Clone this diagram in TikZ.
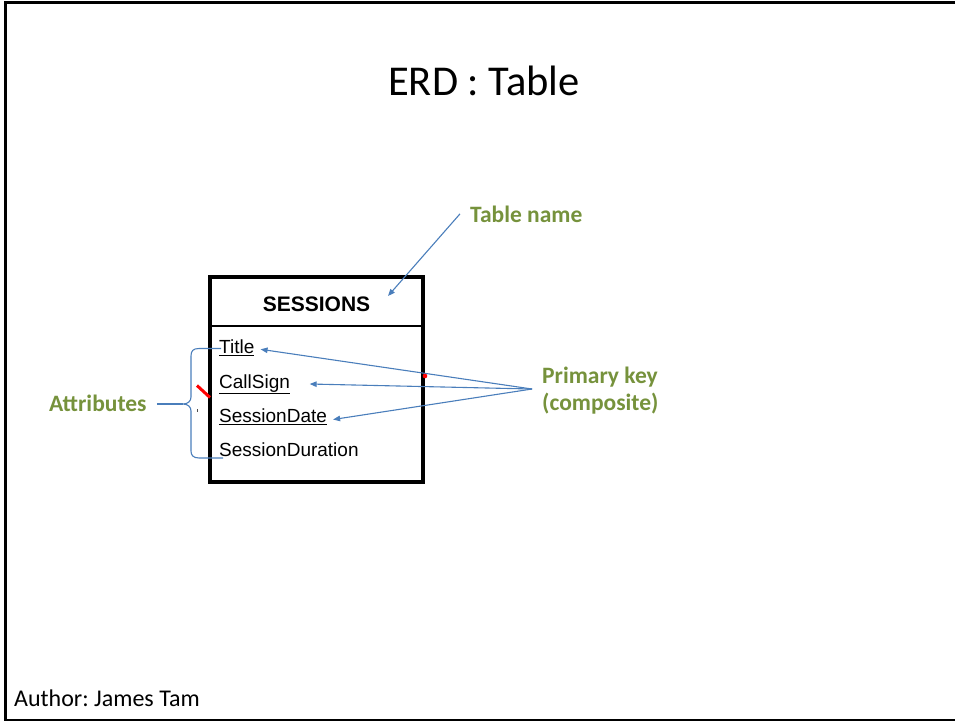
\documentclass[tikz,border=0pt]{standalone}
\usepackage{fontspec}
\setmainfont{Carlito}
\newfontfamily\arialfont{Liberation Sans}
\usetikzlibrary{arrows.meta}
\usetikzlibrary{positioning}
\frenchspacing
\definecolor{labelgreen}{RGB}{118,146,60}
\definecolor{pointerblue}{RGB}{74,126,187}
\tikzset{greenlabel/.style = {text=labelgreen, inner sep=0,
                              font=\fontsize{23.5}{28}\selectfont\bfseries}}
\tikzset{attrib/.style = {inner sep=0, anchor=base west,
                          font=\arialfont\fontsize{19}{22}\selectfont}}
\tikzset{pointer/.style = {draw=pointerblue, line width=1.1pt,
                           -{Triangle[length=7pt,width=5.5pt]}}}
\tikzset{bracket/.style = {draw=pointerblue, line width=1.1pt}}
\tikzset{tablebox/.style = {draw, line width=4pt}}

\begin{document}
\begin{tikzpicture}[x=1pt, y=-1pt]
    \useasboundingbox (0, 0) rectangle (955, 721);

    \draw [line width=3pt] (4, 2.5) -- (955, 2.5);
    \draw [line width=2.5pt] (5.5, 1) -- (5.5, 721);
    \draw [line width=1.2pt] (4, 720) -- (955, 720);

    \node [anchor=base, font=\fontsize{42.5}{50}\selectfont] (heading) at (484, 95) {ERD : Table};
    \node [anchor=base west, inner sep=0, font=\fontsize{24}{28}\selectfont]
        (author) at (14, 706) {Author: James Tam};

    \draw [tablebox] (209.7, 276.7) rectangle (423, 482);
    \draw [line width=2pt] (209.7, 326) -- (423, 326);
    \node [anchor=base, inner sep=0, font=\arialfont\bfseries\fontsize{21}{25}\selectfont]
        (sessions) at (316.5, 311.7) {SESSIONS};

    \node [attrib] (title) at (219, 353.3) {\underline{Title}};
    \node [attrib] (callsign) at (219, 388) {\underline{CallSign}};
    \node [attrib] (sessiondate) at (219, 422.5) {\underline{SessionDate}};
    \node [attrib] (duration) at (219, 456.5) {SessionDuration};

    \node [greenlabel, anchor=base west] (tname) at (470, 222) {Table name};
    \node [greenlabel, anchor=base west] (attr) at (49, 411) {Attributes};
    \node [greenlabel, anchor=base west] (pkey) at (542, 383.3) {Primary key};
    \node [greenlabel, anchor=base west] (pkeysub) at (542, 410) {(composite)};

    \coordinate (tnametip) at (388, 296);
    \coordinate (pkfoot) at (532, 389);
    \coordinate (bracetip) at (183, 404);

    \draw [pointer] ([xshift=-10pt]tname.west) -- (tnametip);

    \draw [pointer] (pkfoot) -- ([xshift=6pt, yshift=4pt]title.base east);
    \draw [pointer] (pkfoot) -- ([xshift=19.5pt, yshift=4pt]callsign.base east);
    \draw [pointer] (pkfoot) -- ([xshift=6pt, yshift=3pt]sessiondate.base east);

    \draw [bracket] (221, 348.5) -- (199, 348.5)
        .. controls (193, 348.5) and (191, 351) .. (191, 356) -- (191, 397)
        .. controls (191, 401) and (188, 404) .. (bracetip)
        .. controls (188, 404) and (191, 407) .. (191, 411) -- (191, 451)
        .. controls (191, 455) and (193, 458) .. (199, 458) -- (223, 458);
    \draw [bracket] ([xshift=10pt]attr.east |- bracetip) -- (bracetip);

    \draw [red, line width=3pt] (197, 385.5) -- (210, 397.5);
    \fill [red] (425, 376) circle [radius=2.3];
    \draw [black!70, line width=0.6pt] (197, 409) -- (197, 412);
\end{tikzpicture}
\end{document}
